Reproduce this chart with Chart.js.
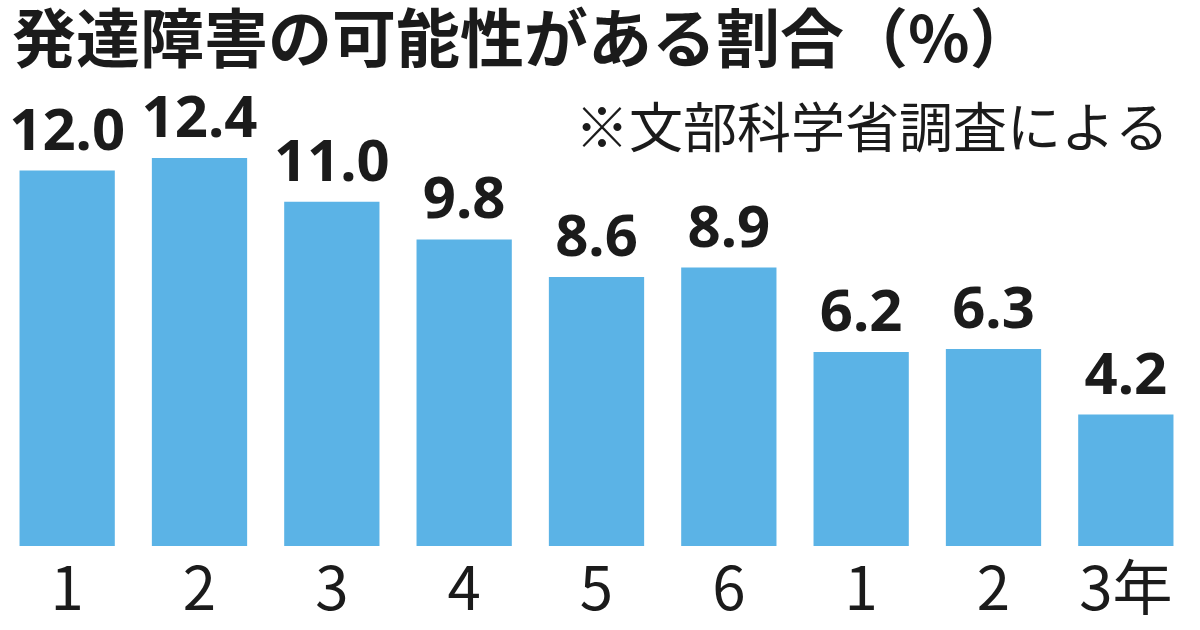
<!DOCTYPE html>
<html lang="ja">
<head>
<meta charset="utf-8">
<script src="https://cdn.jsdelivr.net/npm/chart.js@4"></script>
<style>
  html, body { margin: 0; padding: 0; background: #fff; }
  #wrap { width: 1200px; height: 630px; }
</style>
</head>
<body>
<div id="wrap"><canvas id="grafico"></canvas></div>
<script>
/* 発達障害の可能性がある割合（小1〜中3） */
const gakunen = ['1', '2', '3', '4', '5', '6', '1', '2', '3年'];
const wariai = [12.0, 12.4, 11.0, 9.8, 8.6, 8.9, 6.2, 6.3, 4.2];

const titulo = '発達障害の可能性がある割合（%）';
const nota = '※文部科学省調査による';

const cores = { barra: '#5BB3E6', texto: '#1b1b1b' };

/* textos: título, nota e valores acima das barras */
const textos = {
  id: 'textos',
  afterDatasetsDraw(chart) {
    const ctx = chart.ctx;
    ctx.save();
    ctx.fillStyle = cores.texto;
    ctx.textBaseline = 'alphabetic';

    ctx.textAlign = 'left';
    ctx.font = 'bold 64px "Noto Sans CJK JP"';
    ctx.fillText(titulo, 12, 62);

    ctx.font = '54px "Noto Sans CJK JP"';
    ctx.fillText(nota, 575, 148);

    ctx.textAlign = 'center';
    ctx.font = 'bold 58px "Noto Sans", "Noto Sans CJK JP"';
    chart.getDatasetMeta(0).data.forEach((bar, i) => {
      ctx.fillText(wariai[i].toFixed(1), bar.x, bar.y - 21);
    });
    ctx.restore();
  }
};

new Chart(document.getElementById('grafico'), {
  type: 'bar',
  data: {
    labels: gakunen,
    datasets: [{
      data: wariai,
      backgroundColor: cores.barra,
      barPercentage: 0.72,
      categoryPercentage: 1
    }]
  },
  options: {
    responsive: true,
    maintainAspectRatio: false,
    animation: false,
    layout: { padding: { top: 108, left: 1, right: 8, bottom: 10 } },
    plugins: {
      legend: { display: false },
      tooltip: { enabled: false }
    },
    scales: {
      x: {
        grid: { display: false },
        border: { display: false },
        ticks: {
          color: cores.texto,
          padding: 3,
          font: { family: '"Noto Sans CJK JP"', size: 60, lineHeight: 1 }
        }
      },
      y: {
        display: false,
        min: 0,
        max: 14
      }
    }
  },
  plugins: [textos]
});
</script>
</body>
</html>
